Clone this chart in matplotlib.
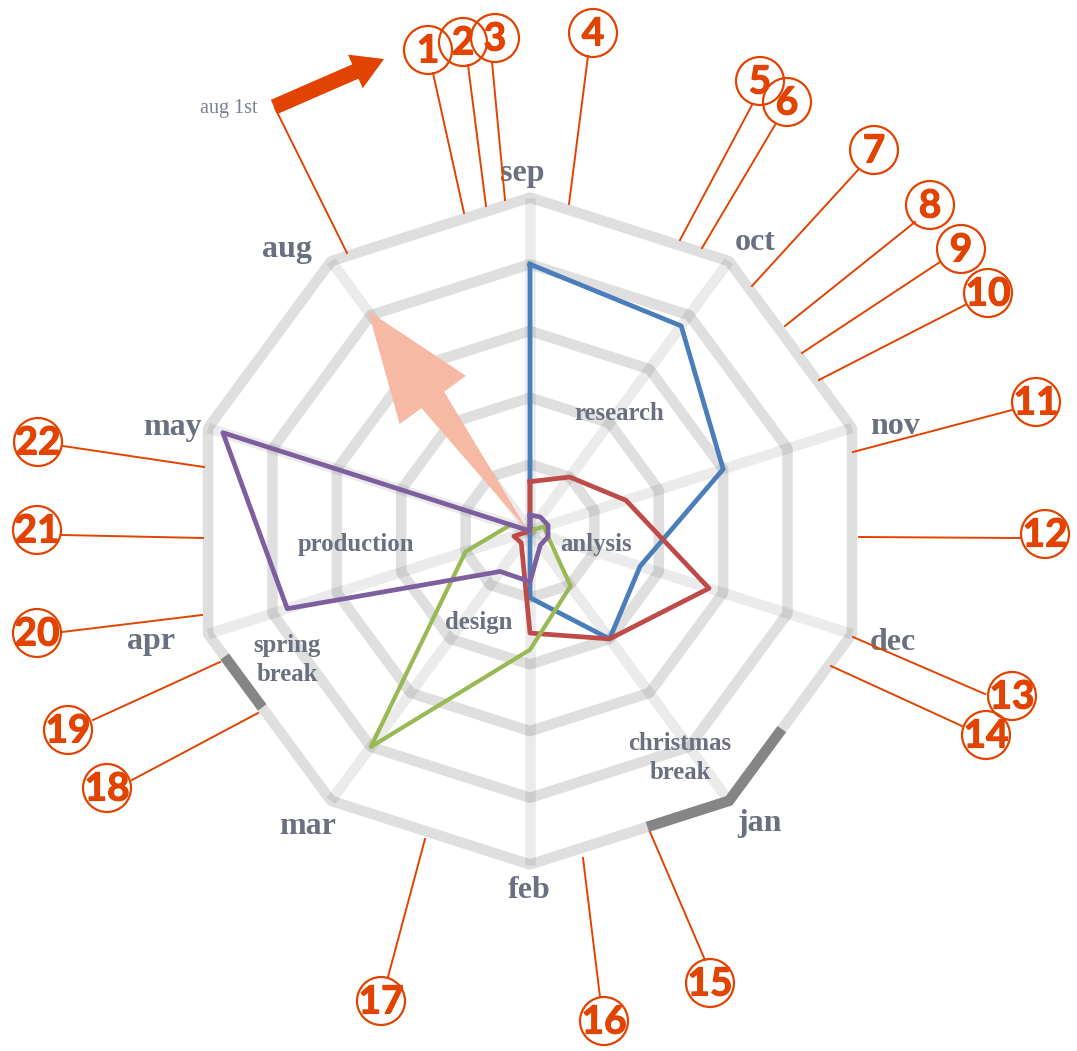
import numpy as np
import matplotlib
matplotlib.use('Agg')
import matplotlib.pyplot as plt
import matplotlib.patheffects as pe
from matplotlib.patches import Circle

# radar data, clockwise from sep (aug carries no values, so lines pass through the centre)
months = ['sep', 'oct', 'nov', 'dec', 'jan', 'feb', 'mar', 'apr', 'may', 'aug']
research = [4.0, 3.8, 3.0, 1.71, 2.0, 1.0, 0, 0, 0, 0]
analysis = [0.74, 1.0, 1.49, 2.78, 2.0, 1.53, 0.22, 0.25, 0, 0]
design = [0, 0, 0.22, 0.28, 1.02, 1.78, 4.0, 1.0, 0.3, 0]
production = [0.24, 0.26, 0.28, 0.28, 0.26, 0.76, 0.75, 3.77, 4.77, 0]
rings = [1, 2, 3, 4, 5]

# breaks as positions along the outer ring (in month steps from sep)
christmas_break = [3.57, 4, 4.41]
spring_break = [6.56, 6.865]

# numbered callouts: circle centre, where the leader leaves it, point on the ring
callout_x = [428, 463, 495, 593, 760, 787, 874, 930, 961, 988, 1036,
             1045, 1012, 986, 710, 604, 381, 107, 68, 37, 37, 38]
callout_y = [50, 42, 38, 33, 81, 102, 150, 205, 249, 293, 402,
             534, 696, 735, 983, 1021, 1001, 788, 730, 633, 530, 442]
leader_x = [433, 468, 492, 588, 752, 775, 858, 915, 940, 965, 1012,
            1021, 985, 962, 705, 600, 388, 132, 93, 62, 62, 63]
leader_y = [73, 65, 62, 56, 105, 125, 170, 222, 262, 305, 410,
            538, 694, 726, 960, 997, 977, 780, 720, 632, 535, 446]
anchor_x = [464, 486, 505, 569, 680, 702, 752, 785, 802, 819, 853,
            859, 853, 831, 650, 583, 425, 258, 220, 202, 203, 204]
anchor_y = [213, 206, 200, 204, 240, 248, 286, 326, 353, 380, 452,
            537, 637, 666, 832, 858, 839, 713, 662, 615, 538, 467]

month_label_x = [522, 755, 895, 893, 759, 529, 308, 151, 172, 287]
month_label_y = [173, 242, 427, 642, 823, 891, 827, 641, 427, 249]

CX, CY = 530, 531
UNIT_X, UNIT_Y = 67.7, 66.7
ORANGE = '#E24300'
GREY_TEXT = '#6B7080'
SERIF = 'Liberation Serif'


def to_xy(values):
    # value on each spoke to canvas position
    angles = np.arange(len(values)) * 2 * np.pi / len(months)
    r = np.array(values)
    return CX + r * UNIT_X * np.sin(angles), CY - r * UNIT_Y * np.cos(angles)


def ring_xy(steps):
    # position along the outer ring
    ox, oy = to_xy([rings[-1]] * len(months))
    ox, oy = np.append(ox, ox[0]), np.append(oy, oy[0])
    idx = np.arange(len(ox))
    return np.interp(steps, idx, ox), np.interp(steps, idx, oy)


fig = plt.figure(figsize=(10.77, 10.51), dpi=100)
ax = fig.add_axes([0, 0, 1, 1])
ax.set_xlim(0, 1077)
ax.set_ylim(1051, 0)
ax.axis('off')

# grid
for r in rings:
    x, y = to_xy([r] * len(months))
    ax.fill(x, y, fill=False, edgecolor='black', alpha=0.125, lw=7.6, joinstyle='bevel', zorder=1)
sx, sy = to_xy([rings[-1]] * len(months))
for i in range(len(months)):
    ax.plot([CX, sx[i]], [CY, sy[i]], color='black', alpha=0.08, lw=7.6, solid_capstyle='butt', zorder=1)

# pale arrow lying on the aug spoke
a = -36 * np.pi / 180
ux, uy = np.sin(a), -np.cos(a)
vx, vy = np.cos(a), np.sin(a)
along = np.array([0, 162, 162, 272, 162, 162])
across = np.array([0, 14, 41, 0, -41, -14])
ax.fill(CX - 2 + along * ux + across * vx, CY + along * uy + across * vy, color='#F5B9A4', lw=0, zorder=2)

# breaks on the outer ring
for b in [christmas_break, spring_break]:
    bx, by = ring_xy(b)
    ax.plot(bx, by, color='#858585', lw=7.6, solid_capstyle='butt', solid_joinstyle='miter', zorder=3)

# series
for vals, col, w in [(research, '#4A7EBB', 3.4), (analysis, '#BE4B48', 3.4),
                     (design, '#98B954', 3.0), (production, '#7D5FA0', 3.4)]:
    x, y = to_xy(vals)
    ax.plot(np.append(x, x[0]), np.append(y, y[0]), color=col, lw=w, solid_joinstyle='round', zorder=4)

# month labels
for m, x, y in zip(months, month_label_x, month_label_y):
    ax.text(x, y, m, family=SERIF, weight='bold', fontsize=23, color=GREY_TEXT,
            ha='center', va='center', zorder=5)

# phase labels
phase_labels = [('research', 619, 414), ('anlysis', 596, 545), ('production', 356, 544),
                ('design', 479, 622), ('spring\nbreak', 287, 660), ('christmas\nbreak', 680, 758)]
for t, x, y in phase_labels:
    ax.text(x, y, t, family=SERIF, weight='bold', fontsize=17.8, color=GREY_TEXT,
            ha='center', va='center', linespacing=1.35, zorder=5)

# numbered callouts
RAD = 24
for i in range(len(callout_x)):
    cx, cy = callout_x[i], callout_y[i]
    ax.plot([leader_x[i], anchor_x[i]], [leader_y[i], anchor_y[i]], color=ORANGE, lw=1.4, zorder=6)
    ax.add_patch(Circle((cx, cy), RAD, fill=False, edgecolor=ORANGE, lw=1.6, zorder=6))
    ax.text(cx, cy + 1, str(i + 1), family='Lato', weight='bold', fontsize=28, color=ORANGE,
            ha='center', va='center', zorder=7,
            path_effects=[pe.withStroke(linewidth=0.8, foreground=ORANGE)])

# aug 1st start marker
ax.text(229, 108, 'aug 1st', family=SERIF, fontsize=14.5, color='#7B808E', ha='center', va='center')
ax.plot([275, 347], [108, 253], color=ORANGE, lw=1.4, zorder=6)
ax.annotate('', xy=(384, 59), xytext=(274, 107),
            arrowprops=dict(arrowstyle='simple,head_length=0.9,head_width=1.06,tail_width=0.45',
                            color=ORANGE, lw=0, mutation_scale=25, shrinkA=0, shrinkB=0), zorder=6)

fig.savefig('out.png', dpi=100)
